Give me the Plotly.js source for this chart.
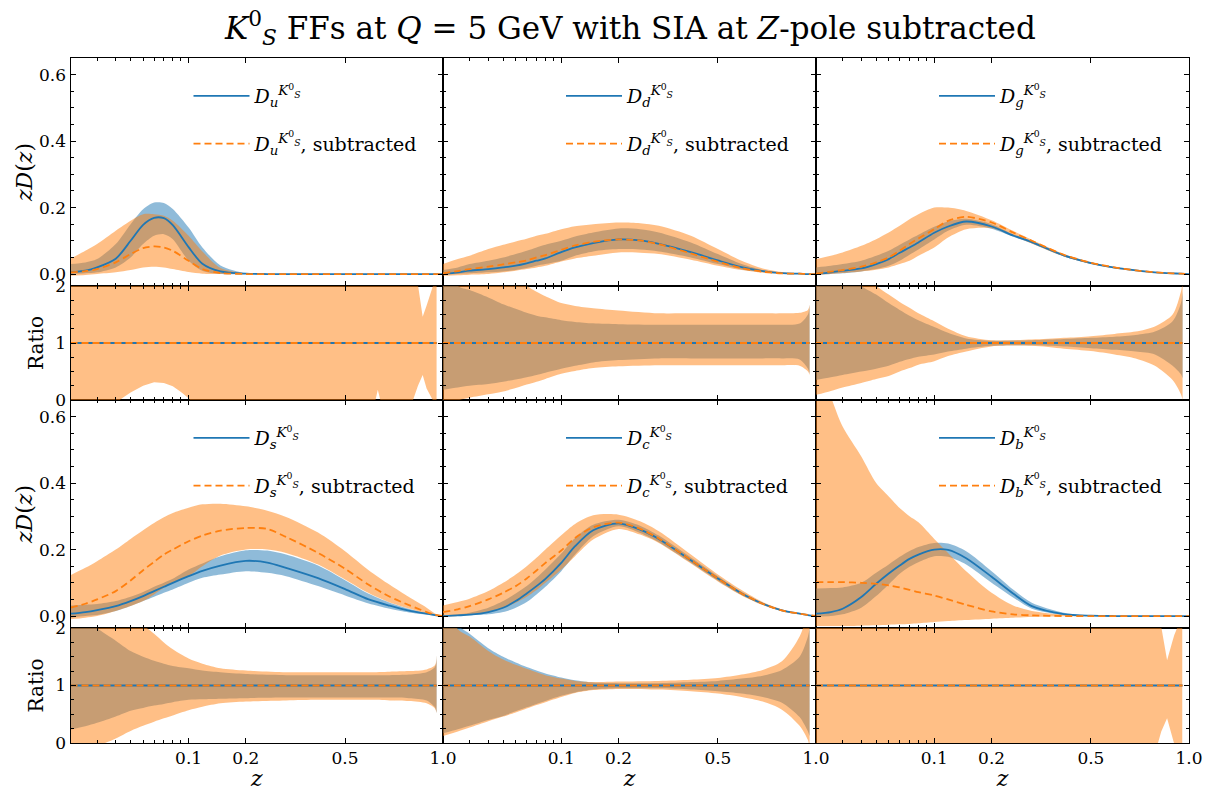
<!DOCTYPE html>
<html><head><meta charset="utf-8">
<script src="https://cdn.plot.ly/plotly-3.0.1.min.js"></script>
<style>html,body{margin:0;padding:0;background:#fff}</style>
</head><body><div id="chart" style="width:1210px;height:791px"></div>
<script>
// ---------- data: z grid of the main panels ----------
const Z = [0.01,0.015,0.02,0.03,0.04,0.05,0.06,0.07,0.08,0.1,0.12,0.15,0.2,0.25,0.3,0.4,0.5,0.6,0.7,0.8,0.9,0.95,1.0];

// u
const uC   = [0.005,0.01,0.02,0.046,0.10,0.148,0.169,0.168,0.147,0.081,0.031,0.008,0.001,0,0,0,0,0,0,0,0,0,0];
const uHi  = [0.03,0.035,0.045,0.09,0.15,0.195,0.215,0.214,0.196,0.14,0.08,0.026,0.003,0,0,0,0,0,0,0,0,0,0];
const uLo  = [0.0,0.002,0.005,0.02,0.05,0.09,0.115,0.12,0.105,0.04,0.01,0.0,0,0,0,0,0,0,0,0,0,0,0];
const uSC  = [0.005,0.009,0.015,0.035,0.06,0.078,0.083,0.08,0.07,0.04,0.015,0.003,0,0,0,0,0,0,0,0,0,0,0];
const uSHi = [0.046,0.07,0.09,0.13,0.16,0.18,0.18,0.175,0.16,0.115,0.068,0.018,0.002,0,0,0,0,0,0,0,0,0,0];
const uSLo = [-0.005,-0.003,0,0.005,0.012,0.02,0.022,0.02,0.015,0.006,0.001,0,0,0,0,0,0,0,0,0,0,0,0];
// d
const dC   = [0.0,0.005,0.01,0.015,0.02,0.025,0.032,0.04,0.047,0.066,0.08,0.093,0.104,0.101,0.091,0.066,0.041,0.021,0.009,0.003,0.001,0,0];
const dHi  = [0.012,0.02,0.03,0.04,0.05,0.06,0.07,0.08,0.088,0.1,0.113,0.125,0.137,0.135,0.125,0.095,0.06,0.03,0.012,0.004,0.001,0,0];
const dLo  = [-0.002,0,0.002,0.005,0.008,0.012,0.018,0.025,0.03,0.04,0.055,0.068,0.075,0.074,0.068,0.05,0.03,0.014,0.006,0.002,0,0,0];
const dSC  = [0.002,0.009,0.015,0.022,0.029,0.035,0.041,0.05,0.057,0.073,0.086,0.097,0.104,0.101,0.09,0.062,0.037,0.018,0.007,0.002,0.001,0,0];
const dSHi = [0.03,0.045,0.055,0.075,0.088,0.098,0.106,0.115,0.121,0.135,0.144,0.15,0.155,0.153,0.145,0.115,0.075,0.04,0.017,0.006,0.001,0,0];
const dSLo = [-0.005,-0.004,-0.002,0.0,0.005,0.01,0.015,0.02,0.025,0.038,0.047,0.055,0.065,0.064,0.06,0.043,0.025,0.012,0.004,0.001,0,0,0];
// g
const gC   = [0,0.005,0.01,0.017,0.03,0.045,0.064,0.08,0.095,0.124,0.143,0.158,0.143,0.116,0.096,0.056,0.033,0.019,0.011,0.005,0.002,0.001,0];
const gHi  = [0.02,0.025,0.03,0.04,0.055,0.07,0.088,0.104,0.118,0.142,0.158,0.166,0.15,0.12,0.1,0.059,0.035,0.02,0.012,0.006,0.002,0.001,0];
const gLo  = [-0.002,0,0.002,0.008,0.015,0.025,0.04,0.058,0.074,0.104,0.13,0.148,0.136,0.112,0.092,0.053,0.031,0.018,0.01,0.004,0.001,0,0];
const gSC  = [0.001,0.007,0.012,0.022,0.035,0.05,0.07,0.09,0.107,0.135,0.16,0.172,0.155,0.125,0.1,0.058,0.034,0.02,0.011,0.005,0.002,0.001,0];
const gSHi = [0.045,0.055,0.065,0.085,0.105,0.125,0.145,0.165,0.18,0.2,0.2,0.19,0.162,0.13,0.103,0.06,0.036,0.021,0.012,0.006,0.002,0.001,0];
const gSLo = [-0.002,0,0.003,0.008,0.013,0.02,0.03,0.04,0.055,0.08,0.11,0.135,0.138,0.115,0.092,0.053,0.031,0.017,0.01,0.004,0.001,0,0];
// s
const sC   = [0.007,0.012,0.018,0.03,0.045,0.06,0.075,0.088,0.1,0.12,0.136,0.152,0.166,0.161,0.145,0.114,0.081,0.05,0.031,0.016,0.007,0.003,0];
const sHi  = [0.032,0.034,0.036,0.045,0.058,0.072,0.088,0.1,0.112,0.14,0.158,0.18,0.198,0.197,0.185,0.152,0.108,0.067,0.04,0.022,0.008,0.003,0];
const sLo  = [-0.005,0,0.003,0.015,0.03,0.045,0.058,0.07,0.08,0.1,0.115,0.125,0.135,0.13,0.12,0.09,0.062,0.038,0.022,0.011,0.004,0.001,0];
const sSC  = [0.025,0.037,0.05,0.075,0.107,0.138,0.163,0.185,0.2,0.225,0.242,0.257,0.265,0.262,0.238,0.19,0.142,0.094,0.058,0.033,0.012,0.004,0];
const sSHi = [0.123,0.145,0.165,0.2,0.232,0.258,0.28,0.297,0.31,0.326,0.336,0.338,0.33,0.317,0.298,0.251,0.195,0.138,0.094,0.057,0.025,0.008,0];
const sSLo = [-0.01,-0.005,0,0.015,0.03,0.045,0.065,0.085,0.1,0.12,0.15,0.182,0.2,0.2,0.19,0.155,0.11,0.069,0.041,0.023,0.008,0.003,0];
// c
const cC   = [0,0.002,0.004,0.012,0.025,0.045,0.068,0.09,0.112,0.16,0.21,0.258,0.279,0.26,0.232,0.168,0.113,0.068,0.037,0.017,0.007,0.003,0];
const cHi  = [0.002,0.005,0.01,0.025,0.045,0.068,0.09,0.115,0.14,0.188,0.235,0.275,0.29,0.272,0.242,0.176,0.12,0.073,0.04,0.019,0.008,0.003,0];
const cLo  = [0,0.001,0.002,0.005,0.012,0.025,0.042,0.065,0.088,0.135,0.185,0.24,0.27,0.25,0.222,0.16,0.106,0.063,0.034,0.015,0.006,0.002,0];
const cSC  = [0.012,0.02,0.03,0.05,0.07,0.09,0.113,0.137,0.16,0.197,0.235,0.267,0.281,0.262,0.233,0.168,0.113,0.068,0.037,0.017,0.007,0.003,0];
const cSHi = [0.032,0.042,0.052,0.075,0.1,0.125,0.15,0.175,0.2,0.243,0.277,0.303,0.305,0.285,0.255,0.185,0.125,0.078,0.042,0.02,0.007,0.003,0];
const cSLo = [-0.002,0.0,0.003,0.012,0.025,0.04,0.058,0.078,0.1,0.14,0.18,0.23,0.262,0.245,0.22,0.158,0.104,0.062,0.033,0.014,0.005,0.002,0];
// b
const bC   = [0.007,0.012,0.022,0.057,0.097,0.128,0.152,0.172,0.185,0.2,0.199,0.174,0.118,0.068,0.03,0.006,0.001,0,0,0,0,0,0];
const bHi  = [0.083,0.084,0.086,0.1,0.13,0.155,0.178,0.196,0.208,0.22,0.218,0.195,0.135,0.08,0.04,0.01,0.002,0,0,0,0,0,0];
const bLo  = [-0.002,0.0,0.005,0.025,0.06,0.095,0.127,0.148,0.162,0.18,0.178,0.155,0.1,0.056,0.022,0.003,0,0,0,0,0,0,0];
const bSC  = [0.102,0.102,0.102,0.1,0.097,0.092,0.086,0.079,0.072,0.062,0.05,0.034,0.014,0.005,0.002,0,0,0,0,0,0,0,0];
const bSHi = [0.78,0.66,0.57,0.48,0.40,0.36,0.325,0.3,0.282,0.232,0.19,0.135,0.07,0.032,0.015,0.004,0.001,0,0,0,0,0,0];
const bSLo = [-0.03,-0.03,-0.03,-0.029,-0.028,-0.026,-0.025,-0.024,-0.022,-0.018,-0.015,-0.012,-0.008,-0.005,-0.003,-0.001,0,0,0,0,0,0,0];

// ---------- data: ratio panels ----------
const ZR = [0.01,0.015,0.02,0.03,0.04,0.05,0.06,0.07,0.08,0.1,0.12,0.15,0.2,0.3,0.4,0.5,0.6,0.7,0.8,0.9,0.95,0.96];
const dRHi  = [2.6,2.0,1.93,1.8,1.68,1.6,1.53,1.48,1.45,1.4,1.37,1.345,1.33,1.32,1.32,1.32,1.32,1.32,1.32,1.34,1.5,1.67];
const dRLo  = [0.18,0.22,0.25,0.28,0.32,0.36,0.4,0.44,0.48,0.55,0.6,0.66,0.7,0.73,0.73,0.73,0.73,0.73,0.73,0.71,0.55,0.46];
const dSRHi = [3,2.7,2.5,2.3,2.2,2.1,2.0,1.9,1.82,1.7,1.65,1.61,1.57,1.52,1.52,1.52,1.52,1.52,1.52,1.53,1.58,1.67];
const dSRLo = [-0.15,-0.01,0.04,0.1,0.15,0.21,0.27,0.32,0.37,0.46,0.51,0.56,0.59,0.61,0.61,0.61,0.61,0.61,0.61,0.6,0.5,0.44];
const gRHi  = [2.5,2.4,2.3,2.0,1.85,1.7,1.58,1.48,1.4,1.28,1.18,1.08,1.04,1.05,1.07,1.09,1.11,1.14,1.2,1.38,1.7,1.9];
const gRLo  = [0.35,0.4,0.44,0.5,0.55,0.6,0.67,0.72,0.76,0.8,0.85,0.9,0.95,0.96,0.94,0.91,0.88,0.85,0.8,0.6,0.45,0.38];
const gSRHi = [2.6,2.55,2.5,2.2,2.0,1.85,1.72,1.62,1.52,1.38,1.25,1.12,1.05,1.06,1.09,1.12,1.16,1.2,1.29,1.5,1.9,2.05];
const gSRLo = [0.09,0.16,0.22,0.3,0.37,0.42,0.5,0.56,0.62,0.68,0.77,0.85,0.94,0.95,0.9,0.86,0.8,0.73,0.6,0.35,0.1,0.0];
const sRHi  = [2.4,2.2,2.0,1.78,1.6,1.5,1.43,1.38,1.34,1.3,1.26,1.23,1.2,1.18,1.18,1.18,1.18,1.18,1.19,1.23,1.32,1.53];
const sRLo  = [0.23,0.29,0.35,0.46,0.56,0.61,0.65,0.68,0.71,0.75,0.76,0.77,0.78,0.79,0.79,0.79,0.79,0.79,0.78,0.74,0.62,0.52];
const sSRHi = [2.8,2.7,2.6,2.4,2.2,2.05,1.9,1.75,1.63,1.47,1.38,1.3,1.26,1.23,1.23,1.23,1.23,1.24,1.25,1.28,1.35,1.53];
const sSRLo = [-0.4,-0.25,-0.07,0.08,0.21,0.3,0.37,0.43,0.48,0.57,0.63,0.69,0.72,0.74,0.75,0.75,0.75,0.74,0.73,0.69,0.6,0.52];
const cRHi  = [2.6,2.05,1.9,1.65,1.5,1.4,1.32,1.26,1.21,1.14,1.09,1.05,1.04,1.04,1.06,1.08,1.12,1.17,1.27,1.5,1.85,2.0];
const cRLo  = [0.17,0.24,0.3,0.4,0.47,0.55,0.62,0.68,0.73,0.82,0.88,0.93,0.95,0.95,0.93,0.9,0.86,0.8,0.7,0.45,0.2,0.12];
const cSRHi = [2.5,1.98,1.85,1.6,1.45,1.36,1.29,1.23,1.18,1.12,1.08,1.06,1.07,1.08,1.1,1.13,1.19,1.27,1.42,1.85,2.3,2.5];
const cSRLo = [0.12,0.2,0.27,0.38,0.46,0.53,0.6,0.66,0.71,0.8,0.87,0.92,0.94,0.93,0.9,0.86,0.8,0.72,0.58,0.3,0.05,-0.1];
// u and b ratio bands (only the subtracted band is visible)
const ZRu   = [0.01,0.03,0.035,0.04,0.05,0.06,0.07,0.08,0.09,0.1,0.11,0.6,0.63,0.642,0.655,0.8,0.82,0.85,0.877,0.9,0.94,0.96];
const uSRLo = [-0.5,-0.05,0.05,0.13,0.25,0.31,0.3,0.24,0.14,0.03,-0.1,-0.3,-0.02,0.18,-0.02,-0.3,-0.02,0.25,0.44,0.2,-0.02,-0.3];
const uSRHi = [3,3,3,3,3,3,3,3,3,3,3,3,3,3,3,3,3,2.02,1.46,1.66,2.02,3];
const ZRb   = [0.01,0.8,0.815,0.835,0.868,0.9,0.91,0.93,0.94,0.958];
const bSRHi = [3,3,3,2.02,1.44,1.78,1.88,2.02,3,3];
const bSRLo = [-1,-1,-0.02,0.2,0.43,0.1,-0.02,-1,-1,-1];
// reference line (ratio of a central value to itself)
const ZONE = [0.01,0.96];
const ONE  = [1,1];

// ---------- axis ticks ----------
const XT  = [0.1,0.2,0.5,1.0];
const XTL = ['0.1','0.2','0.5','1.0'];
const XMIN = [0.02,0.03,0.04,0.05,0.06,0.07,0.08,0.09];
const YT  = [0,0.2,0.4,0.6];
const YTL = ['0.0','0.2','0.4','0.6'];
const RT  = [0,1,2];
const RTL = ['0','1','2'];

// ---------- styling / layout ----------
const FONT = 'DejaVu Serif';
const BLUE='#1f77b4', ORANGE='#ff7f0e';
const BLUE_F='rgba(31,119,180,0.5)', ORANGE_F='rgba(255,127,14,0.5)';
const W=1210, H=791;
const cols = [[70.5,443],[443,816],[816,1189]];
const rowsMain = [[58,286],[400,628]];
const rowsRatio = [[286,400],[628,743]];
const fx = p => p/W, fy = p => 1-p/H;
const cb = Math.cbrt;

const panels = [
 {f:'u', c:uC,lo:uLo,hi:uHi, sc:uSC,slo:uSLo,shi:uSHi, rx:ZRu, rlo:null,rhi:null, srlo:uSRLo,srhi:uSRHi, rshape:'linear'},
 {f:'d', c:dC,lo:dLo,hi:dHi, sc:dSC,slo:dSLo,shi:dSHi, rx:ZR, rlo:dRLo,rhi:dRHi, srlo:dSRLo,srhi:dSRHi, rshape:'spline'},
 {f:'g', c:gC,lo:gLo,hi:gHi, sc:gSC,slo:gSLo,shi:gSHi, rx:ZR, rlo:gRLo,rhi:gRHi, srlo:gSRLo,srhi:gSRHi, rshape:'spline'},
 {f:'s', c:sC,lo:sLo,hi:sHi, sc:sSC,slo:sSLo,shi:sSHi, rx:ZR, rlo:sRLo,rhi:sRHi, srlo:sSRLo,srhi:sSRHi, rshape:'spline'},
 {f:'c', c:cC,lo:cLo,hi:cHi, sc:cSC,slo:cSLo,shi:cSHi, rx:ZR, rlo:cRLo,rhi:cRHi, srlo:cSRLo,srhi:cSRHi, rshape:'spline'},
 {f:'b', c:bC,lo:bLo,hi:bHi, sc:bSC,slo:bSLo,shi:bSHi, rx:ZRb, rlo:null,rhi:null, srlo:bSRLo,srhi:bSRHi, rshape:'linear'}
];

const traces = [];
const layout = {
  width:W, height:H, paper_bgcolor:'#fff', plot_bgcolor:'rgba(0,0,0,0)',
  margin:{l:0,r:0,t:0,b:0}, showlegend:true,
  font:{family:FONT, color:'#000'},
  title:{text:'<i>K</i><sup>0</sup><sub><i>S</i></sub> FFs at <i>Q</i> = 5 GeV with SIA at <i>Z</i>-pole subtracted',
         x:0.521, xanchor:'center', y:1-28/H, yanchor:'middle', font:{family:FONT,size:31,color:'#000'}}
};

function band(xs, lo, hi, fill, xa, ya, shape){
  const X = xs.map(cb);
  traces.push({type:'scatter',mode:'lines',x:X,y:lo,xaxis:xa,yaxis:ya,line:{width:0,color:fill,shape:shape,smoothing:0.8},showlegend:false,hoverinfo:'skip'});
  traces.push({type:'scatter',mode:'lines',x:X,y:hi,xaxis:xa,yaxis:ya,line:{width:0,color:fill,shape:shape,smoothing:0.8},fill:'tonexty',fillcolor:fill,showlegend:false,hoverinfo:'skip'});
}
function axisBase(){
  return {showline:true, linecolor:'#000', linewidth:1, mirror:'allticks', ticks:'inside', ticklen:5, tickwidth:1, tickcolor:'#000',
          showgrid:false, zeroline:false, tickfont:{family:FONT,size:17,color:'#000'}, fixedrange:true};
}
function label(f, subtr){
  return '<i>D</i><sub><i>'+f+'</i></sub><sup><i>K</i><sup>0</sup><sub><i>S</i></sub></sup>' + (subtr ? ', subtracted' : '');
}

panels.forEach((p,k)=>{
  const r = Math.floor(k/3), c = k%3;
  const mi = k+1, ri = k+7;
  const mx = 'x'+mi, my = 'y'+mi, rx = 'x'+ri, ry = 'y'+ri;
  const lg = k===0 ? 'legend' : 'legend'+(k+1);
  band(Z, p.lo, p.hi, BLUE_F, mx, my, 'spline');
  band(Z, p.slo, p.shi, ORANGE_F, mx, my, 'spline');
  traces.push({type:'scatter',mode:'lines',x:Z.map(cb),y:p.c,xaxis:mx,yaxis:my,line:{color:BLUE,width:1.8,shape:'spline',smoothing:0.8},
               name:label(p.f,false),legend:lg,legendgroup:'a'+k,hoverinfo:'skip'});
  traces.push({type:'scatter',mode:'lines',x:Z.map(cb),y:p.sc,xaxis:mx,yaxis:my,line:{color:ORANGE,width:1.8,dash:'7px,4px',shape:'spline',smoothing:0.8},
               name:label(p.f,true),legend:lg,legendgroup:'b'+k,hoverinfo:'skip'});
  if(p.rlo) band(p.rx, p.rlo, p.rhi, BLUE_F, rx, ry, p.rshape);
  band(p.rx, p.srlo, p.srhi, ORANGE_F, rx, ry, p.rshape);
  traces.push({type:'scatter',mode:'lines',x:ZONE.map(cb),y:ONE,xaxis:rx,yaxis:ry,line:{color:BLUE,width:1.8},showlegend:false,hoverinfo:'skip'});
  traces.push({type:'scatter',mode:'lines',x:ZONE.map(cb),y:ONE,xaxis:rx,yaxis:ry,line:{color:ORANGE,width:1.8,dash:'7px,4px'},showlegend:false,hoverinfo:'skip'});

  const xd = [fx(cols[c][0]), fx(cols[c][1])];
  const xcommon = Object.assign(axisBase(), {
    range:[cb(0.01),1], tickmode:'array', tickvals:XT.map(cb), ticktext:XTL,
    minor:{tickmode:'array', tickvals:XMIN.map(cb), ticks:'inside', ticklen:3, tickwidth:1, tickcolor:'#000'}, domain:xd});
  layout['xaxis'+mi] = Object.assign({}, xcommon, {anchor:my, showticklabels:false, minor:Object.assign({},xcommon.minor)});
  layout['xaxis'+ri] = Object.assign({}, xcommon, {anchor:ry, showticklabels:r===1, minor:Object.assign({},xcommon.minor),
     title: r===1 ? {text:'<i>z</i>', font:{family:FONT,size:22,color:'#000'}, standoff:8} : undefined});
  layout['yaxis'+mi] = Object.assign(axisBase(), {anchor:mx, domain:[fy(rowsMain[r][1]), fy(rowsMain[r][0])],
     range:[-0.036,0.65], tickmode:'array', tickvals:YT, ticktext:YTL, showticklabels:c===0,
     minor:{tick0:0, dtick:0.05, ticks:'inside', ticklen:3, tickwidth:1, tickcolor:'#000'},
     title: c===0 ? {text:'<i>zD</i>(<i>z</i>)', font:{family:FONT,size:22,color:'#000'}, standoff:0} : undefined});
  layout['yaxis'+ri] = Object.assign(axisBase(), {anchor:rx, domain:[fy(rowsRatio[r][1]), fy(rowsRatio[r][0])],
     range:[0,2], tickmode:'array', tickvals:RT, ticktext:RTL, showticklabels:c===0,
     minor:{tick0:0, dtick:0.25, ticks:'inside', ticklen:3, tickwidth:1, tickcolor:'#000'},
     title: c===0 ? {text:'Ratio', font:{family:FONT,size:20,color:'#000'}, standoff:6} : undefined});
  layout[lg] = {x:fx(cols[c][0]+118), y:fy(rowsMain[r][0]+19), xanchor:'left', yanchor:'top',
     bgcolor:'rgba(0,0,0,0)', borderwidth:0, font:{family:FONT,size:19,color:'#000'},
     itemwidth:56, traceorder:'grouped', tracegroupgap:20};
});

Plotly.newPlot('chart', traces, layout, {staticPlot:true, displayModeBar:false});
</script></body></html>
